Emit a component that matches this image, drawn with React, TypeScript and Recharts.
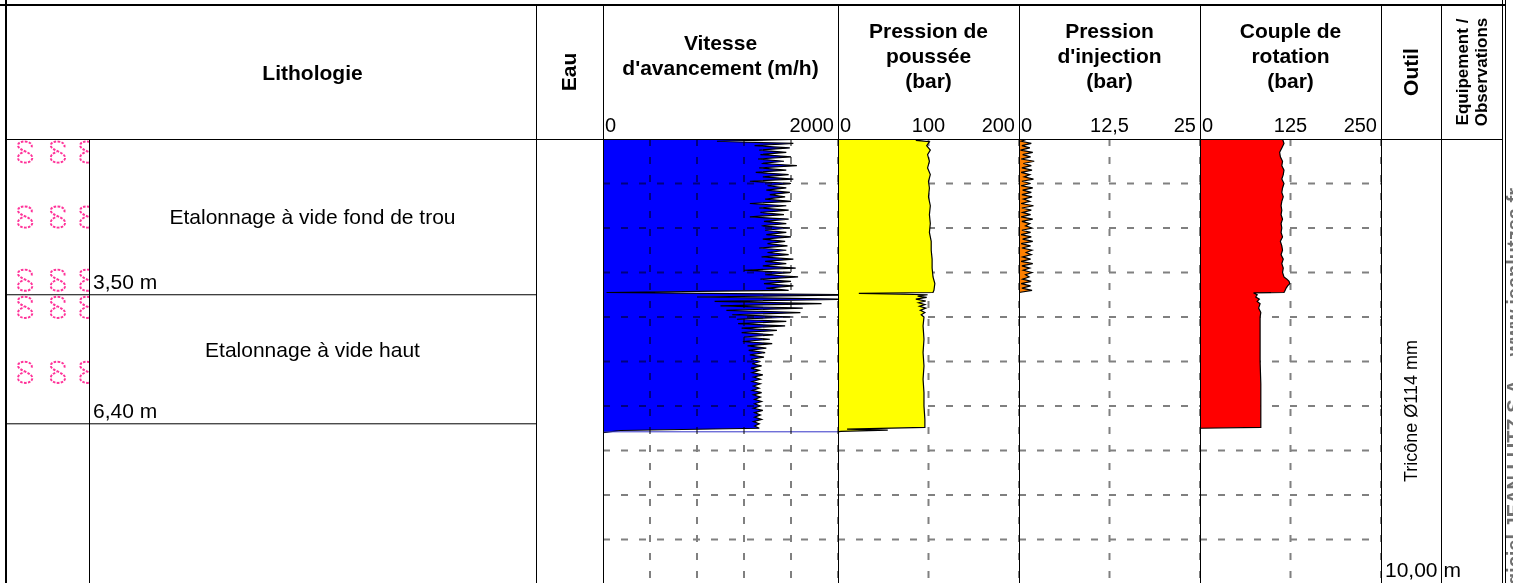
import React from "react"
import {
  ComposedChart,
  ScatterChart,
  Scatter,
  Area,
  XAxis,
  YAxis,
  CartesianGrid,
  ReferenceLine,
  ReferenceArea,
  Label,
} from "recharts"

const FONT = "'Liberation Sans', Arial, Helvetica, sans-serif"

// depth axis shared by every track (m)
const DEPTH_MAX = 10
const DEPTH_TICKS = [1, 2, 3, 4, 5, 6, 7, 8, 9]

// lithology
const LAYER_TOP = [0, 3.5]
const LAYER_BASE = [3.5, 6.4]
const LAYER_TEXT = ["Etalonnage à vide fond de trou", "Etalonnage à vide haut"]
const LAYER_TEXT_DEPTH = [1.75, 4.75]
const LAYER_BASE_TEXT = ["3,50 m", "6,40 m"]
const SYMBOL_DEPTHS = [0.29, 1.75, 3.17, 3.78, 5.24]
const SYMBOL_COLS = [0.24, 0.63, 0.98]

// Vitesse d'avancement (m/h) - one reading every 5 cm from 0 m
const VIT_STEP = 0.05
const VITESSE = [
  1790, 970, 1620, 1290, 1590, 1330, 1560, 1340, 1600, 1320,
  1540, 1350, 1650, 1330, 1560, 1300, 1580, 1360, 1620, 1250,
  1600, 1400, 1560, 1390, 1590, 1420, 1550, 1380, 1600, 1250,
  1560, 1330, 1580, 1340, 1540, 1250, 1580, 1370, 1560, 1350,
  1590, 1380, 1560, 1390, 1600, 1360, 1550, 1400, 1570, 1330,
  1560, 1400, 1580, 1350, 1620, 1380, 1560, 1360, 1640, 1200,
  1600, 1380, 1660, 1340, 1600, 1370, 1620, 1390, 1580, 30,
  2250, 800, 2100, 950, 1860, 1000, 1700, 1050, 1680, 1100,
  1620, 1140, 1560, 1150, 1550, 1180, 1480, 1180, 1450, 1200,
  1420, 1190, 1440, 1230, 1390, 1240, 1380, 1250, 1370, 1260,
  1340, 1270, 1350, 1260, 1330, 1270, 1360, 1280, 1340, 1270,
  1340, 1280, 1330, 1270, 1350, 1280, 1340, 1290, 1350, 1290,
  1340, 1280, 1360, 1290, 1340, 1290, 1350, 1280, 1330, 1290,
  1330, 150, 0,
]
const VIT_END = 6.58
const VIT_GRID = [400, 800, 1200, 1600]

// Pression de poussée (bar)
const POU_DEPTH = [
  0, 0.03, 0.06, 0.15, 0.25, 0.35, 0.5, 0.65, 0.8, 0.95, 1.1, 1.3, 1.5, 1.7, 1.9,
  2.1, 2.3, 2.5, 2.7, 2.9, 3.1, 3.25, 3.4, 3.45, 3.47, 3.5, 3.53, 3.56, 3.6, 3.64,
  3.68, 3.72, 3.76, 3.8, 3.85, 3.9, 3.95, 4.0, 4.2, 4.5, 4.8, 5.1, 5.4, 5.7, 6.0,
  6.3, 6.48, 6.52, 6.54, 6.57, 6.58,
]
const POU_VALUE = [
  99, 86, 101, 98, 102, 99, 101, 99, 102, 100, 101, 100, 102, 101, 102,
  101, 103, 103, 104, 104, 105, 107, 106, 105, 23, 99, 88, 98, 86, 97,
  89, 96, 90, 97, 91, 96, 92, 95, 94, 95, 94, 95, 94, 95, 95,
  96, 96, 10, 55, 3, 0,
]

// Pression d'injection (bar) - one reading every 5 cm from 0 m
const INJ_STEP = 0.05
const INJECTION = [
  1.2, 0.3, 1.7, 0.4, 1.5, 0.2, 1.9, 0.5, 1.6, 0.3,
  2.1, 0.6, 1.7, 0.4, 1.8, 0.3, 1.5, 0.7, 2.0, 0.4,
  1.6, 0.3, 1.9, 0.5, 1.7, 0.4, 1.8, 0.6, 1.5, 0.3,
  2.0, 0.4, 1.7, 0.5, 1.6, 0.3, 1.9, 0.4, 1.5, 0.9,
  1.8, 0.4, 1.6, 0.3, 1.7, 0.5, 1.9, 0.3, 1.6, 0.4,
  1.8, 1.0, 1.7, 0.5, 1.6, 0.3, 1.9, 0.4, 1.5, 0.6,
  1.8, 0.9, 1.4, 0.5, 1.7, 0.3, 1.6, 0.4, 1.8, 0,
]

// Couple de rotation (bar)
const COU_DEPTH = [
  0, 0.1, 0.2, 0.3, 0.4, 0.5, 0.6, 0.7, 0.8, 0.9, 1.0, 1.1, 1.2, 1.3, 1.4, 1.5,
  1.6, 1.7, 1.8, 1.9, 2.0, 2.1, 2.2, 2.3, 2.4, 2.5, 2.6, 2.7, 2.8, 2.9, 3.0, 3.1,
  3.15, 3.2, 3.25, 3.3, 3.35, 3.42, 3.45, 3.46, 3.5, 3.55, 3.6, 3.65, 3.7, 3.8,
  3.9, 4.0, 4.5, 5.0, 5.5, 6.0, 6.48, 6.5,
]
const COU_VALUE = [
  114, 116, 113, 110, 111, 114, 113, 116, 115, 113, 116, 114, 113, 115, 113, 112,
  113, 112, 114, 112, 113, 112, 114, 111, 113, 114, 112, 115, 113, 115, 114, 116,
  120, 123, 124, 121, 119, 117, 116, 74, 79, 77, 82, 79, 83, 81,
  84, 83, 83, 83, 84, 84, 84, 0,
]

// header scales
const VIT_SCALE = ["0", "2000"]
const POU_SCALE = ["0", "100", "200"]
const INJ_SCALE = ["0", "12,5", "25"]
const COU_SCALE = ["0", "125", "250"]

type Row = { d: number; v: number }

const stepRows = (vals: number[], step: number): Row[] =>
  vals.map((v, i) => ({ d: +(i * step).toFixed(3), v }))
const pairRows = (ds: number[], vs: number[]): Row[] => ds.map((d, i) => ({ d, v: vs[i] }))

const vitRows = stepRows(VITESSE, VIT_STEP)
const pouRows = pairRows(POU_DEPTH, POU_VALUE)
const injRows = stepRows(INJECTION, INJ_STEP)
const couRows = pairRows(COU_DEPTH, COU_VALUE)
const symbolRows = SYMBOL_DEPTHS.flatMap((d) => SYMBOL_COLS.map((x) => ({ x, d })))

const TOP = 139
const TRACK_H = 445
const NO_MARGIN = { top: 0, right: 0, bottom: 0, left: 0 }
const GRID = { stroke: "#808080", strokeWidth: 2, strokeDasharray: "7 11" }

function Track({
  left,
  width,
  rows,
  max,
  gridX,
  fill,
  gridOnTop = false,
  end,
}: {
  left: number
  width: number
  rows: Row[]
  max: number
  gridX: number[]
  fill: string
  gridOnTop?: boolean
  end?: number
}) {
  // vertical layout: the depth axis already runs top -> bottom
  const axes = (
    <>
      <XAxis type="number" domain={[0, max]} ticks={gridX} hide allowDataOverflow />
      <YAxis type="number" dataKey="d" domain={[0, DEPTH_MAX]} ticks={DEPTH_TICKS} hide />
    </>
  )
  return (
    <>
      <div style={{ position: "absolute", left, top: TOP }}>
        <ComposedChart layout="vertical" width={width} height={TRACK_H} data={rows} margin={NO_MARGIN}>
          {axes}
          {!gridOnTop && <CartesianGrid {...GRID} />}
          <Area
            type="linear"
            dataKey="v"
            fill={fill}
            fillOpacity={1}
            stroke="#000"
            strokeWidth={1.2}
            dot={false}
            activeDot={false}
            isAnimationActive={false}
          />
          {end !== undefined && <ReferenceLine y={end} stroke="#3434c8" strokeWidth={1} />}
        </ComposedChart>
      </div>
      {gridOnTop && (
        <div style={{ position: "absolute", left, top: TOP, mixBlendMode: "multiply" }}>
          <ComposedChart layout="vertical" width={width} height={TRACK_H} data={rows} margin={NO_MARGIN}>
            {axes}
            <CartesianGrid {...GRID} />
          </ComposedChart>
        </div>
      )}
    </>
  )
}

function Glyph(props: any) {
  const { cx, cy } = props
  return (
    <path
      transform={`translate(${cx},${cy}) scale(1.3)`}
      d="M5,-3.5 C6.5,-9 -5.5,-9.5 -5.5,-5 C-5.5,-1 5.5,0 5.5,4.5 C5.5,9.5 -5.5,9.5 -5.5,4.5 C-5.5,2 -3,0.8 -1,0"
      fill="none"
      stroke="#ff3399"
      strokeWidth={1.5}
      strokeDasharray="2 1"
    />
  )
}

const centerLabel = (text: string) => (p: any) => {
  const { x, y, width } = p.viewBox
  return (
    <text x={x + width / 2} y={y + 7} textAnchor="middle" fontSize={21} fontFamily={FONT} fill="#000">
      {text}
    </text>
  )
}
const baseLabel = (text: string) => (p: any) => {
  const { x, y, height } = p.viewBox
  return (
    <text x={x + 4} y={y + height - 6} fontSize={21} fontFamily={FONT} fill="#000">
      {text}
    </text>
  )
}

function VLine({ x, y1, y2, w = 1 }: { x: number; y1: number; y2: number; w?: number }) {
  return <div style={{ position: "absolute", left: x, top: y1, width: w, height: y2 - y1, background: "#000" }} />
}
function HLine({ y, x1, x2, h = 1 }: { y: number; x1: number; x2: number; h?: number }) {
  return <div style={{ position: "absolute", left: x1, top: y, width: x2 - x1, height: h, background: "#000" }} />
}

function Title({ x1, x2, cy, lines, size = 21 }: { x1: number; x2: number; cy: number; lines: string[]; size?: number }) {
  const lh = 25
  return (
    <div
      style={{
        position: "absolute",
        left: x1,
        width: x2 - x1,
        top: cy - (lines.length * lh) / 2,
        textAlign: "center",
        fontWeight: "bold",
        fontSize: size,
        lineHeight: `${lh}px`,
      }}
    >
      {lines.map((l) => (
        <div key={l}>{l}</div>
      ))}
    </div>
  )
}

function Rotated({
  cx,
  cy,
  children,
  style,
  box,
  align = "center",
}: {
  cx: number
  cy: number
  children: React.ReactNode
  style?: React.CSSProperties
  box?: number
  align?: "center" | "right"
}) {
  return (
    <div
      style={{
        position: "absolute",
        left: cx,
        top: cy,
        width: box,
        transform: "translate(-50%, -50%) rotate(-90deg)",
        whiteSpace: "nowrap",
        textAlign: align,
        ...style,
      }}
    >
      {children}
    </div>
  )
}

function Scale({ x1, x2, labels }: { x1: number; x2: number; labels: string[] }) {
  const st: React.CSSProperties = { position: "absolute", top: 115, fontSize: 20, lineHeight: "20px" }
  return (
    <>
      <div style={{ ...st, left: x1 + 2 }}>{labels[0]}</div>
      {labels.length === 3 && (
        <div style={{ ...st, left: x1, width: x2 - x1, textAlign: "center" }}>{labels[1]}</div>
      )}
      <div style={{ ...st, left: x1, width: x2 - x1 - 4, textAlign: "right" }}>{labels[labels.length - 1]}</div>
    </>
  )
}

export default function App() {
  const X = { left: 5, sym: 89, eau: 536, vit: 603, pou: 838, inj: 1019, cou: 1200, outil: 1381, obs: 1441, right: 1502 }
  return (
    <div
      style={{
        position: "absolute",
        left: 0,
        top: 0,
        width: 1513,
        height: 583,
        overflow: "hidden",
        background: "#fff",
        fontFamily: FONT,
        color: "#000",
      }}
    >
      {/* lithology symbols */}
      <div style={{ position: "absolute", left: X.left, top: TOP }}>
        <ScatterChart width={X.sym - X.left} height={TRACK_H} margin={NO_MARGIN}>
          <XAxis type="number" dataKey="x" domain={[0, 1]} hide />
          <YAxis type="number" dataKey="d" domain={[0, DEPTH_MAX]} reversed hide />
          <Scatter data={symbolRows} shape={Glyph} isAnimationActive={false} />
          {LAYER_BASE.map((b) => (
            <ReferenceLine key={b} y={b} stroke="#000" strokeWidth={1} />
          ))}
        </ScatterChart>
      </div>

      {/* lithology descriptions */}
      <div style={{ position: "absolute", left: X.sym, top: TOP }}>
        <ComposedChart width={X.eau - X.sym} height={TRACK_H} data={pouRows} margin={NO_MARGIN}>
          <XAxis type="number" domain={[0, 1]} hide />
          <YAxis type="number" dataKey="d" domain={[0, DEPTH_MAX]} reversed hide />
          {LAYER_TOP.map((t, i) => (
            <ReferenceArea key={t} y1={t} y2={LAYER_BASE[i]} fill="none" fillOpacity={0} stroke="none">
              <Label content={baseLabel(LAYER_BASE_TEXT[i])} />
            </ReferenceArea>
          ))}
          {LAYER_TEXT_DEPTH.map((d, i) => (
            <ReferenceLine key={d} y={d} stroke="none">
              <Label content={centerLabel(LAYER_TEXT[i])} />
            </ReferenceLine>
          ))}
          {LAYER_BASE.map((b) => (
            <ReferenceLine key={b} y={b} stroke="#000" strokeWidth={1} />
          ))}
        </ComposedChart>
      </div>

      <Track left={X.vit} width={X.pou - X.vit} rows={vitRows} max={2000} gridX={VIT_GRID} fill="#0000ff" gridOnTop end={VIT_END} />
      <Track left={X.pou} width={X.inj - X.pou} rows={pouRows} max={200} gridX={[100]} fill="#ffff00" />
      <Track left={X.inj} width={X.cou - X.inj} rows={injRows} max={25} gridX={[12.5]} fill="#ff8000" />
      <Track left={X.cou} width={X.outil - X.cou} rows={couRows} max={250} gridX={[125]} fill="#ff0000" />

      {/* frame */}
      <HLine y={4} x1={0} x2={1506} h={2} />
      <HLine y={TOP} x1={X.left} x2={X.right} />
      <VLine x={X.left} y1={0} y2={583} w={2} />
      <VLine x={X.sym} y1={TOP} y2={583} />
      {[X.eau, X.vit, X.pou, X.inj, X.cou, X.outil, X.obs].map((x) => (
        <VLine key={x} x={x} y1={5} y2={583} />
      ))}
      <VLine x={1502} y1={0} y2={583} />
      <VLine x={1505} y1={0} y2={583} />

      {/* header */}
      <Title x1={X.sym} x2={X.eau} cy={72} lines={["Lithologie"]} />
      <Rotated cx={569} cy={72} style={{ fontWeight: "bold", fontSize: 21 }}>Eau</Rotated>
      <Title x1={X.vit} x2={X.pou} cy={55} lines={["Vitesse", "d'avancement (m/h)"]} />
      <Title x1={X.pou} x2={X.inj} cy={55} lines={["Pression de", "poussée", "(bar)"]} />
      <Title x1={X.inj} x2={X.cou} cy={55} lines={["Pression", "d'injection", "(bar)"]} />
      <Title x1={X.cou} x2={X.outil} cy={55} lines={["Couple de", "rotation", "(bar)"]} />
      <Rotated cx={1411} cy={72} style={{ fontWeight: "bold", fontSize: 21 }}>Outil</Rotated>
      <Rotated cx={1472} cy={72} style={{ fontWeight: "bold", fontSize: 17, lineHeight: "19px" }}>
        Equipement /<br />Observations
      </Rotated>

      <Scale x1={X.vit} x2={X.pou} labels={VIT_SCALE} />
      <Scale x1={X.pou} x2={X.inj} labels={POU_SCALE} />
      <Scale x1={X.inj} x2={X.cou} labels={INJ_SCALE} />
      <Scale x1={X.cou} x2={X.outil} labels={COU_SCALE} />

      {/* tool */}
      <Rotated cx={1411} cy={411} style={{ fontSize: 18 }}>Tricône Ø114 mm</Rotated>
      <div style={{ position: "absolute", left: 1385, top: 559, fontSize: 21, lineHeight: "21px", whiteSpace: "nowrap" }}>
        10,00 m
      </div>

      <Rotated cx={1514} cy={448} box={520} align="right" style={{ fontSize: 20, fontWeight: "bold", color: "#707070" }}>
        Logiciel JEAN LUTZ S.A. - www.jeanlutzsa.fr
      </Rotated>
    </div>
  )
}
